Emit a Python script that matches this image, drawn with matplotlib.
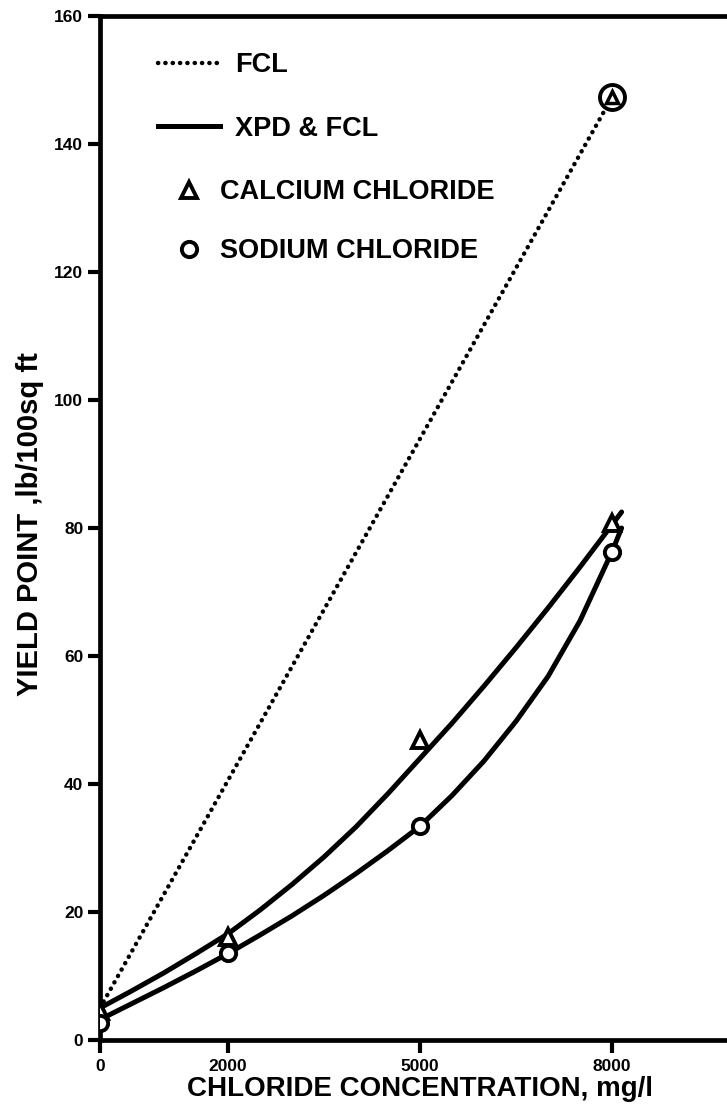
import matplotlib
matplotlib.use("Agg")
import matplotlib.pyplot as plt
from matplotlib.lines import Line2D

plt.rcParams['font.family'] = ['Liberation Sans', 'DejaVu Sans']
plt.rcParams['font.weight'] = 'bold'

# ---- data ----
x_ticks = [0, 2000, 5000, 8000]
y_ticks = [0, 20, 40, 60, 80, 100, 120, 140, 160]

# measured points
conc = [0, 2000, 5000, 8000]
calcium_xpd = [4.5, 16.1, 46.9, 80.8]
sodium_xpd = [2.6, 13.6, 33.4, 76.3]

# FCL only (both salts coincide)
fcl_conc = [0, 8000]
fcl_yp = [5.0, 147.3]

# smooth curves as drawn in the figure (read at regular spacing)
curve_conc = [0, 500, 1000, 1500, 2000, 2500, 3000, 3500, 4000, 4500,
              5000, 5500, 6000, 6500, 7000, 7500, 8000, 8150]
calcium_curve = [5.0, 7.7, 10.5, 13.5, 16.6, 20.3, 24.3, 28.6, 33.3, 38.5,
                 44.0, 49.5, 55.3, 61.3, 67.5, 73.9, 80.5, 82.5]
sodium_curve = [3.2, 5.7, 8.2, 10.8, 13.5, 16.4, 19.4, 22.6, 26.0, 29.6,
                33.4, 38.2, 43.6, 49.8, 56.8, 65.5, 76.3, 80.0]

fig = plt.figure(figsize=(7.27, 11.06), dpi=100)
ax = fig.add_axes([100 / 727, 66 / 1106, 640 / 727, 1024 / 1106])

dot_style = (0, (0.05, 1.6))

# FCL dotted line
ax.plot(fcl_conc, fcl_yp, color='black', lw=3.2, linestyle=dot_style,
        dash_capstyle='round', zorder=2)
# XPD & FCL curves
ax.plot(curve_conc, calcium_curve, color='black', lw=3.6, solid_capstyle='round',
        solid_joinstyle='round', zorder=3)
ax.plot(curve_conc, sodium_curve, color='black', lw=3.6, solid_capstyle='round',
        solid_joinstyle='round', zorder=3)

# markers
ax.plot(conc, calcium_xpd, linestyle='none', marker='^', ms=11, mfc='white',
        mec='black', mew=2.8, zorder=4)
ax.plot(conc, sodium_xpd, linestyle='none', marker='o', ms=11, mfc='white',
        mec='black', mew=2.8, zorder=4)
ax.plot(fcl_conc[-1:], fcl_yp[-1:], linestyle='none', marker='o', ms=18, mfc='white',
        mec='black', mew=2.8, zorder=4)
ax.plot(fcl_conc[-1:], fcl_yp[-1:], linestyle='none', marker='^', ms=9, mfc='white',
        mec='black', mew=2.5, zorder=5)

ax.set_xlim(0, 10000)
ax.set_ylim(0, 160)
ax.set_xticks(x_ticks)
ax.set_xticklabels([str(v) for v in x_ticks])
ax.set_yticks(y_ticks)
ax.set_yticklabels([str(v) for v in y_ticks])
ax.tick_params(axis='both', direction='out', length=9, width=3, labelsize=12.5, pad=3)
ax.tick_params(axis='x', pad=5)
for lab in ax.get_xticklabels() + ax.get_yticklabels():
    lab.set_fontweight('bold')
for s in ax.spines.values():
    s.set_linewidth(3.4)

ax.set_xlabel('CHLORIDE CONCENTRATION, mg/l', fontsize=20, fontweight='bold')
ax.xaxis.set_label_coords(320 / 640, -36 / 1024)
ax.set_ylabel('YIELD POINT ,lb/100sq ft', fontsize=21, fontweight='bold')
ax.yaxis.set_label_coords(-56 / 640, 516 / 1024)

prop = {'weight': 'bold', 'size': 19.5}
line_handles = [
    Line2D([], [], color='black', lw=3.2, linestyle=dot_style, dash_capstyle='round'),
    Line2D([], [], color='black', lw=3.6),
]
marker_handles = [
    Line2D([], [], color='black', linestyle='none', marker='^', ms=11, mfc='white', mew=2.8),
    Line2D([], [], color='black', linestyle='none', marker='o', ms=11, mfc='white', mew=2.8),
]
leg1 = ax.legend(line_handles, ['FCL', 'XPD & FCL'], loc='upper left',
                 bbox_to_anchor=(58 / 640, 1 - 36 / 1024), frameon=False,
                 handlelength=2.3, handletextpad=0.55, labelspacing=1.4,
                 borderpad=0, borderaxespad=0, prop=prop)
ax.add_artist(leg1)
leg2 = ax.legend(marker_handles, ['CALCIUM CHLORIDE', 'SODIUM CHLORIDE'], loc='upper left',
                 bbox_to_anchor=(58 / 640, 1 - 163 / 1024), frameon=False,
                 handlelength=2.3, handletextpad=0.0, labelspacing=1.22,
                 borderpad=0, borderaxespad=0, prop=prop)

fig.savefig('out.png', dpi=100)
